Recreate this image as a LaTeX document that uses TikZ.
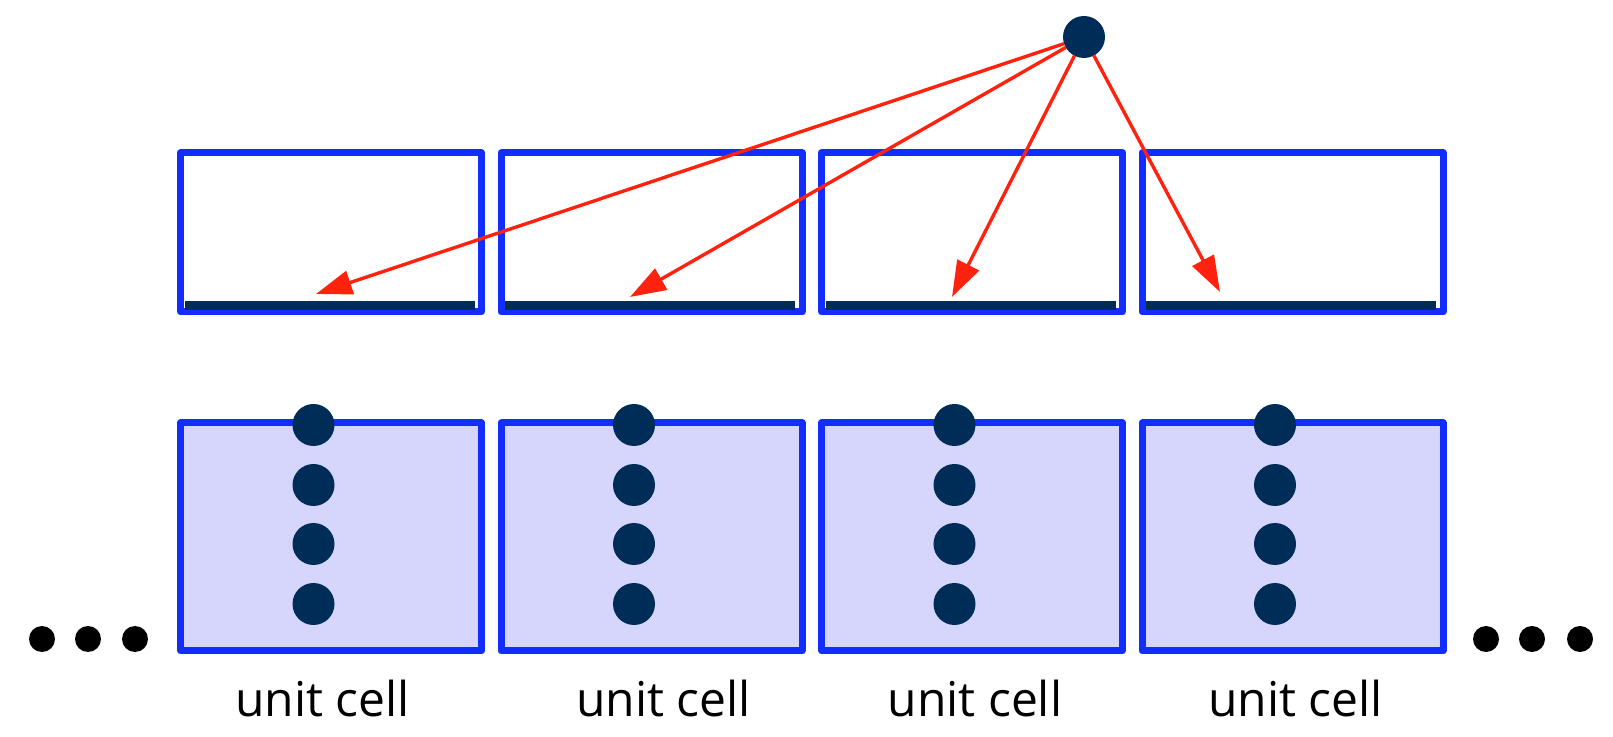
\documentclass[tikz,border=0pt]{standalone}
\usepackage{fontspec}
\setmainfont{Open Sans}
\usetikzlibrary{arrows.meta,calc}
\definecolor{boxblue}{RGB}{20,45,255}
\definecolor{cellfill}{RGB}{214,214,252}
\definecolor{navy}{RGB}{0,45,87}
\definecolor{arrred}{RGB}{255,35,15}
\tikzset{
  topbox/.style={draw=boxblue,line width=3.5pt,line join=round,fill=white,rectangle,outer sep=0pt,inner sep=0pt,minimum width=150.5pt,minimum height=79.5pt},
  cellbox/.style={draw=boxblue,line width=3.5pt,line join=round,fill=cellfill,rectangle,outer sep=0pt,inner sep=0pt,minimum width=150.5pt,minimum height=114pt},
  atom/.style={circle,fill=navy,inner sep=0pt,outer sep=0pt,minimum size=21pt},
  ell/.style={circle,fill=black,inner sep=0pt,outer sep=0pt,minimum size=13pt},
  hop/.style={draw=arrred,line width=1.7pt,-{Triangle[length=18pt,width=12pt]}},
  lbl/.style={anchor=base,font=\fontsize{24pt}{28pt}\selectfont,inner sep=0pt},
}
\begin{document}
\begin{tikzpicture}[x=0.5pt,y=-0.5pt]
\useasboundingbox (0,0) rectangle (1613,737);
% top boxes
\foreach \i/\cx in {1/331,2/651.5,3/972,4/1292.5}{
  \node[topbox] (t\i) at (\cx,232.5) {};
  \fill[navy] ($(t\i.south west)+(4,-11)$) rectangle ($(t\i.south east)+(-7,-2)$);
  \node[cellbox] (b\i) at (\cx,537) {};
  \foreach \j/\dy in {1/2,2/62,3/121,4/181}{
    \node[atom] (a\i\j) at ($(b\i.north)+(-17.5,\dy)$) {};
  }
}
\node[lbl] (l1) at (322.5,717) {unit cell};
\node[lbl] (l2) at (663.5,717) {unit cell};
\node[lbl] (l3) at (975,717) {unit cell};
\node[lbl] (l4) at (1295.5,717) {unit cell};
% source atom
\node[atom] (src) at (1084,37) {};
\coordinate (p1) at (316,294);
\coordinate (p2) at (630,297);
\coordinate (p3) at (952,297);
\coordinate (p4) at (1220,292);
\foreach \i in {1,2,3,4}{\draw[hop] (src) -- (p\i);}
% ellipses
\node[ell] (e1) at (42,639) {};
\node[ell] (e2) at (88,639) {};
\node[ell] (e3) at (135,639) {};
\node[ell] (e4) at (1486,639) {};
\node[ell] (e5) at (1532,639) {};
\node[ell] (e6) at (1580,639) {};
\end{tikzpicture}
\end{document}
